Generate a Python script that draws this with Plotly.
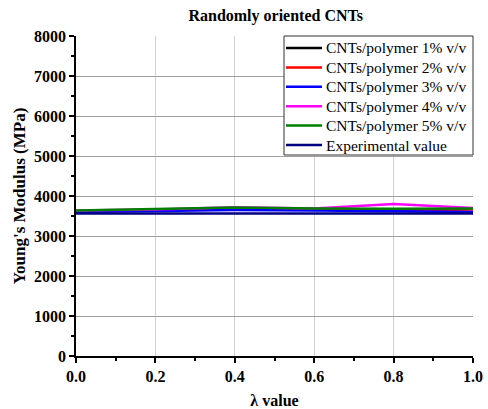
import plotly.graph_objects as go

lam = [0.0, 0.2, 0.4, 0.6, 0.8, 1.0]
names = ["CNTs/polymer 1% v/v", "CNTs/polymer 2% v/v", "CNTs/polymer 3% v/v",
         "CNTs/polymer 4% v/v", "CNTs/polymer 5% v/v", "Experimental value"]
colors = ["#000000", "#ff0000", "#0000ff", "#ff00ff", "#008000", "#000080"]
v1 = [3620, 3650, 3700, 3680, 3650, 3680]
v2 = [3620, 3650, 3690, 3670, 3640, 3660]
v3 = [3600, 3620, 3650, 3640, 3620, 3600]
v4 = [3640, 3660, 3720, 3690, 3800, 3700]
v5 = [3640, 3670, 3710, 3690, 3680, 3690]
vexp = [3560, 3560, 3560, 3560, 3560, 3560]
series = [v1, v2, v3, v4, v5, vexp]

W, H = 488, 409
L, R, T, B = 76, 15, 36, 53
pw, ph = W - L - R, H - T - B

def px(x):
    return (x - L) / pw

def py(y):
    return (H - B - y) / ph

fig = go.Figure()
for n, c, v in zip(names, colors, series):
    fig.add_trace(go.Scatter(x=lam, y=v, name=n, mode="lines",
                             line=dict(color=c, width=2.5), showlegend=False))

font = "Liberation Serif, Times New Roman, serif"

# legend box drawn in paper coordinates
shapes = [dict(type="rect", xref="paper", yref="paper",
               x0=px(284), x1=px(473), y0=py(155), y1=py(36),
               line=dict(color="#333333", width=1), fillcolor="white", layer="above")]
annotations = []
for i, (n, c) in enumerate(zip(names, colors)):
    yc = 48 + 19.4 * i
    shapes.append(dict(type="line", xref="paper", yref="paper",
                       x0=px(286), x1=px(322), y0=py(yc), y1=py(yc),
                       line=dict(color=c, width=2.5), layer="above"))
    annotations.append(dict(x=px(324), y=py(yc), xref="paper", yref="paper",
                            text=n, showarrow=False, xanchor="left", yanchor="middle",
                            font=dict(size=15.5, family=font, color="black")))

fig.update_layout(
    width=W, height=H,
    margin=dict(l=L, r=R, t=T, b=B, autoexpand=False),
    paper_bgcolor="white", plot_bgcolor="white",
    font=dict(family=font, color="black"),
    title=dict(text="<b>Randomly oriented CNTs</b>", x=0.565, xanchor="center",
               y=0.963, yanchor="middle", font=dict(size=16, family=font)),
    showlegend=False,
    shapes=shapes, annotations=annotations,
)
fig.update_xaxes(
    range=[0, 1.0], tickvals=[0, 0.2, 0.4, 0.6, 0.8, 1.0],
    ticktext=["0.0", "0.2", "0.4", "0.6", "0.8", "1.0"],
    ticks="outside", ticklen=5, tickcolor="black", tickwidth=1.5,
    minor=dict(dtick=0.1, ticks="outside", ticklen=3, tickcolor="black", showgrid=False),
    showgrid=True, gridcolor="#d0d0d0", gridwidth=1,
    showline=True, linecolor="black", linewidth=1.5, mirror=False,
    tickfont=dict(size=16, family=font, weight="bold"),
    title=dict(text="<b>λ value</b>", font=dict(size=16, family=font), standoff=14),
    zeroline=False, automargin=False,
)
fig.update_yaxes(
    range=[0, 8000], tickvals=list(range(0, 8001, 1000)),
    ticks="outside", ticklen=5, tickcolor="black", tickwidth=1.5,
    minor=dict(dtick=500, ticks="outside", ticklen=3, tickcolor="black", showgrid=False),
    showgrid=True, gridcolor="#a0a0a0", gridwidth=1,
    showline=True, linecolor="black", linewidth=1.5,
    tickfont=dict(size=16, family=font, weight="bold"),
    title=dict(text="<b>Young's Modulus (MPa)</b>", font=dict(size=17, family=font), standoff=4),
    zeroline=False, automargin=False,
)
fig.write_html("out.html")
